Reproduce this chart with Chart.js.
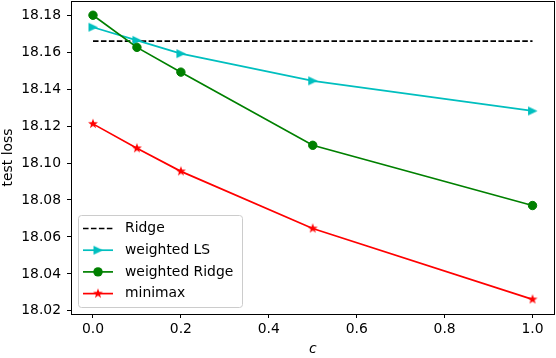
<!DOCTYPE html>
<html><head><meta charset="utf-8">
<script src="https://cdn.jsdelivr.net/npm/chart.js@4"></script>
<style>html,body{margin:0;padding:0;background:#fff;overflow:hidden}</style>
</head><body>
<canvas id="c" width="556" height="358"></canvas>
<script>
// ---- data ----
const cValues = [0, 0.1, 0.2, 0.5, 1.0];
const ridge = [18.166, 18.166, 18.166, 18.166, 18.166];
const weightedLS = [18.1735, 18.1664, 18.1592, 18.1445, 18.1282];
const weightedRidge = [18.1800, 18.1626, 18.1492, 18.1096, 18.0770];
const minimax = [18.1212, 18.1080, 18.0955, 18.0646, 18.0262];
const xTicks = [0, 0.2, 0.4, 0.6, 0.8, 1.0];
const yTicks = [18.02, 18.04, 18.06, 18.08, 18.10, 18.12, 18.14, 18.16, 18.18];
const seriesNames = ['Ridge', 'weighted LS', 'weighted Ridge', 'minimax'];
const xLabel = 'c';
const yLabel = 'test loss';

const FONT = '"DejaVu Sans", sans-serif';
const CYAN = '#00bfbf', GREEN = '#008000', RED = '#ff0000';

function mk(w, h, draw) {
  const cv = document.createElement('canvas');
  cv.width = w; cv.height = h;
  draw(cv.getContext('2d'));
  return cv;
}
const triRight = mk(11, 11, g => {
  g.fillStyle = CYAN; g.beginPath();
  g.moveTo(1, 1); g.lineTo(10.5, 5.5); g.lineTo(1, 10); g.closePath(); g.fill();
});
const starImg = mk(12, 12, g => {
  g.fillStyle = RED; g.beginPath();
  const cx = 6, cy = 6, R = 5.2, r = 2.1;
  for (let i = 0; i < 10; i++) {
    const a = -Math.PI / 2 + i * Math.PI / 5;
    const rr = i % 2 === 0 ? R : r;
    const px = cx + rr * Math.cos(a), py = cy + rr * Math.sin(a);
    i ? g.lineTo(px, py) : g.moveTo(px, py);
  }
  g.closePath(); g.fill();
});

const toXY = arr => arr.map((v, i) => ({x: cValues[i], y: v}));

const frameAndLegend = {
  id: 'frameAndLegend',
  afterDatasetsDraw(chart) {
    const {ctx, chartArea: a} = chart;
    ctx.save();
    ctx.strokeStyle = '#000'; ctx.lineWidth = 1;
    ctx.strokeRect(Math.round(a.left) + 0.5, Math.round(a.top) + 0.5,
      Math.round(a.right) - Math.round(a.left) - 1, Math.round(a.bottom) - Math.round(a.top));
    // legend
    const bx = 78.5, by = 215.5, bw = 164, bh = 92, rad = 3;
    ctx.beginPath();
    ctx.moveTo(bx + rad, by); ctx.lineTo(bx + bw - rad, by);
    ctx.quadraticCurveTo(bx + bw, by, bx + bw, by + rad);
    ctx.lineTo(bx + bw, by + bh - rad);
    ctx.quadraticCurveTo(bx + bw, by + bh, bx + bw - rad, by + bh);
    ctx.lineTo(bx + rad, by + bh);
    ctx.quadraticCurveTo(bx, by + bh, bx, by + bh - rad);
    ctx.lineTo(bx, by + rad);
    ctx.quadraticCurveTo(bx, by, bx + rad, by);
    ctx.closePath();
    ctx.fillStyle = 'rgba(255,255,255,0.8)'; ctx.fill();
    ctx.strokeStyle = '#cccccc'; ctx.stroke();
    const rows = [228.5, 250.2, 271.9, 293.6];
    const colors = ['#000', CYAN, GREEN, RED];
    rows.forEach((y, i) => {
      ctx.beginPath();
      ctx.strokeStyle = colors[i]; ctx.lineWidth = 1.7;
      ctx.setLineDash(i === 0 ? [5.55, 2.4] : []);
      ctx.moveTo(83, y); ctx.lineTo(113, y); ctx.stroke();
      ctx.setLineDash([]);
      if (i === 1) ctx.drawImage(triRight, 98 - 5.5, y - 5.5);
      if (i === 2) { ctx.beginPath(); ctx.fillStyle = GREEN; ctx.arc(98, y, 4.7, 0, Math.PI * 2); ctx.fill(); }
      if (i === 3) ctx.drawImage(starImg, 98 - 6, y - 6);
      ctx.fillStyle = '#000'; ctx.font = '13.9px ' + FONT;
      ctx.textBaseline = 'middle'; ctx.textAlign = 'left';
      ctx.fillText(seriesNames[i], 125, y);
    });
    ctx.restore();
  }
};

new Chart(document.getElementById('c'), {
  type: 'line',
  data: {
    datasets: [
      {label: seriesNames[0], data: toXY(ridge), borderColor: '#000', borderWidth: 1.7,
       borderDash: [5.55, 2.4], pointRadius: 0, order: 4},
      {label: seriesNames[1], data: toXY(weightedLS), borderColor: CYAN, borderWidth: 1.7,
       pointStyle: triRight, pointRadius: 5, order: 3},
      {label: seriesNames[2], data: toXY(weightedRidge), borderColor: GREEN, borderWidth: 1.7,
       pointStyle: 'circle', pointRadius: 4.2, pointBorderWidth: 1, pointBackgroundColor: GREEN,
       pointBorderColor: GREEN, order: 2},
      {label: seriesNames[3], data: toXY(minimax), borderColor: RED, borderWidth: 1.7,
       pointStyle: starImg, pointRadius: 5, order: 1}
    ]
  },
  options: {
    responsive: false, animation: false, devicePixelRatio: 1,
    layout: {autoPadding: false, padding: {left: 0, top: 1, right: 1.5, bottom: 0}},
    plugins: {legend: {display: false}, tooltip: {enabled: false}},
    elements: {line: {tension: 0}},
    scales: {
      x: {
        type: 'linear', min: -0.05, max: 1.05,
        afterBuildTicks: s => { s.ticks = xTicks.map(v => ({value: v})); },
        afterFit: s => { s.height = 44; s.paddingLeft = 0; s.paddingRight = 0; s.paddingTop = 0; s.paddingBottom = 0; },
        grid: {drawOnChartArea: false, drawTicks: true, tickLength: 4, color: '#000'},
        border: {display: false},
        ticks: {color: '#000', font: {family: FONT, size: 13.9}, padding: 3,
                maxRotation: 0, autoSkip: false, callback: v => Number(v).toFixed(1)},
        title: {display: true, text: xLabel, color: '#000',
                font: {family: FONT, size: 13.9, style: 'italic'}, padding: {top: 0, bottom: 0}}
      },
      y: {
        type: 'linear', min: 18.0183, max: 18.1877,
        afterBuildTicks: s => { s.ticks = yTicks.map(v => ({value: v})); },
        afterFit: s => { s.width = 71; s.paddingLeft = 0; s.paddingRight = 0; s.paddingTop = 0; s.paddingBottom = 0; },
        grid: {drawOnChartArea: false, drawTicks: true, tickLength: 4, color: '#000'},
        border: {display: false},
        ticks: {color: '#000', font: {family: FONT, size: 13.9}, padding: 6,
                autoSkip: false, callback: v => Number(v).toFixed(2)},
        title: {display: true, text: yLabel, color: '#000',
                font: {family: FONT, size: 13.9}, padding: {top: 0, bottom: 0}}
      }
    }
  },
  plugins: [frameAndLegend]
});
</script>
</body></html>
